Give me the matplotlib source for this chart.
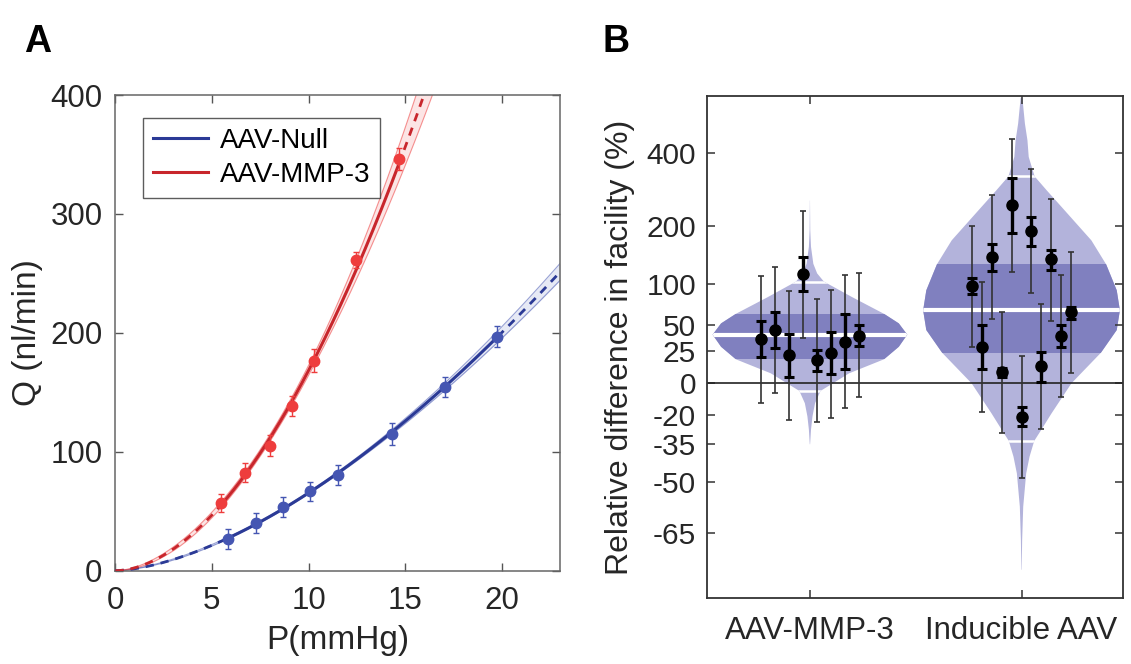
import numpy as np
import matplotlib
matplotlib.use('Agg')
import matplotlib.pyplot as plt
from matplotlib.patches import Polygon, Rectangle

plt.rcParams['font.family'] = ['Liberation Sans', 'DejaVu Sans']

# ---- panel A: flow vs pressure (means +/- error) ----
p_null = [5.86, 7.28, 8.67, 10.09, 11.5, 14.31, 17.04, 19.74]
q_null = [26.7, 39.8, 53.8, 67.0, 80.5, 114.7, 154.7, 196.8]
e_null = [8.3, 8.4, 8.3, 8.0, 8.5, 9.3, 8.4, 8.8]

p_mmp = [5.47, 6.74, 8.00, 9.17, 10.30, 12.45, 14.66]
q_mmp = [57.2, 82.4, 104.9, 138.5, 176.6, 261.3, 346.2]
e_mmp = [7.5, 8.1, 8.8, 8.7, 9.5, 7.0, 9.0]

# ---- panel B: relative difference in facility (%) ----
groups = ['AAV-MMP-3', 'Inducible AAV']

mmp_mid = [35.7, 44.6, 21, 114, 17, 22.8, 32.6, 39]
mmp_se_lo = [20, 27.7, 4.3, 90, 8.5, 6, 9.8, 29]
mmp_se_hi = [54, 64, 40.6, 141, 26, 43, 61.7, 49.7]
mmp_ci_lo = [-13, -7.1, -23, 37, -24, -22, -16, -9.3]
mmp_ci_hi = [111, 125, 90, 232, 80, 92, 113, 115]

ind_mid = [96.6, 28.6, 141, 7.5, 246, -21.2, 189, 12.4, 137, 39, 63.6]
ind_se_lo = [86, 10, 119, 4, 186, -26, 161, 0.7, 120, 28.6, 56]
ind_se_hi = [107.5, 49.7, 165, 11, 319, -15.5, 219, 24, 154, 49.7, 70]
ind_ci_lo = [28, -18.7, 56, -29.8, 117, -48.8, 87, -27.6, 54, -9.7, 7.2]
ind_ci_hi = [200, 101.8, 272, 64, 450, 20.8, 346, 73, 263, 113, 150]

# violin outlines: level (%) and half width (x units)
mmp_vl_pct = [258, 191, 159, 130, 115, 103, 82, 62, 51.5, 40, 28.6, 17.8, 6.8, -5.6, -13.4, -21, -28, -35]
mmp_vl_w = [0.0003, 0.0015, 0.005, 0.016, 0.034, 0.066, 0.20, 0.35, 0.42, 0.46, 0.42, 0.35, 0.185, 0.05, 0.024, 0.012, 0.005, 0.0008]
mmp_dark = [17.8, 62]
mmp_marks = [-5.6, 40, 103]

ind_vl_pct = [636, 514, 446, 386, 324, 284, 242, 171, 129, 91, 66, 44.6, 23.3, -0.4, -19.3, -28, -33.5, -40.4, -47, -58, -66.7, -73]
ind_vl_w = [0.004, 0.016, 0.028, 0.034, 0.062, 0.12, 0.19, 0.33, 0.40, 0.45, 0.465, 0.45, 0.375, 0.236, 0.142, 0.094, 0.06, 0.038, 0.022, 0.008, 0.003, 0.0008]
ind_dark = [23.3, 129]
ind_marks = [-33.5, 66, 324]

ytick_pct = [400, 200, 100, 50, 25, 0, -20, -35, -50, -65]

NULL_LINE, NULL_PT = '#2b3a96', '#4556b2'
MMP_LINE, MMP_PT = '#c8262c', '#ee3d3d'
V_LIGHT, V_DARK = '#b3b3db', '#8080bf'
TXT = '#262626'


def tr(v):
    return np.log1p(np.asarray(v, dtype=float) / 100.0)


fig = plt.figure(figsize=(11.31, 6.64), dpi=100)

# ================= panel A =================
axA = fig.add_axes([0.1017, 0.1405, 0.3935, 0.7164])
pp = np.linspace(0.02, 23, 500)
handles = []
for p, q, e, cl, cp, lab in [(p_null, q_null, e_null, NULL_LINE, NULL_PT, 'AAV-Null'),
                             (p_mmp, q_mmp, e_mmp, MMP_LINE, MMP_PT, 'AAV-MMP-3')]:
    # power-law fit in log-log space with its confidence band
    coef, cov = np.polyfit(np.log(p), np.log(q), 1, cov=True)
    X = np.column_stack([np.log(pp), np.ones_like(pp)])
    mu = X @ coef
    se = np.sqrt(np.sum((X @ cov) * X, axis=1))
    fit = np.exp(mu)
    lo, hi = np.exp(mu - 1.6 * se), np.exp(mu + 1.6 * se)
    axA.fill_between(pp, lo, hi, color=cp, alpha=0.13, lw=0, zorder=1)
    axA.plot(pp, lo, color=cp, lw=0.8, alpha=0.55, zorder=2)
    axA.plot(pp, hi, color=cp, lw=0.8, alpha=0.55, zorder=2)
    inside = (pp >= min(p)) & (pp <= max(p))
    h, = axA.plot(np.where(inside, pp, np.nan), fit, color=cl, lw=2.2, zorder=3, label=lab)
    axA.plot(np.where(inside, np.nan, pp), fit, color=cl, lw=2.0, ls=(0, (3, 2.5)), zorder=3)
    axA.errorbar(p, q, yerr=e, fmt='o', color=cp, ms=7.5, elinewidth=1.0,
                 capsize=2.5, capthick=1.0, zorder=4)
    handles.append(h)

axA.set_xlim(0, 23)
axA.set_ylim(0, 400)
axA.set_xticks([0, 5, 10, 15, 20])
axA.set_yticks([0, 100, 200, 300, 400])
axA.tick_params(direction='in', top=True, right=True, length=6, width=1,
                labelsize=22.5, colors='#555555', labelcolor=TXT)
axA.tick_params(axis='x', pad=11)
axA.tick_params(axis='y', pad=9)
for s in axA.spines.values():
    s.set_color('#666666')
    s.set_linewidth(1.1)
axA.set_xlabel('P(mmHg)', fontsize=24, color=TXT)
axA.set_ylabel('Q (nl/min)', fontsize=24, color=TXT)
axA.xaxis.set_label_coords(0.5, -0.115)
axA.yaxis.set_label_coords(-0.162, 0.5)
leg = axA.legend(handles=handles, loc='upper left', bbox_to_anchor=(0.063, 0.952),
                 borderaxespad=0, fontsize=20, frameon=True, fancybox=False,
                 handlelength=2.0, handletextpad=0.4, borderpad=0.35, labelspacing=0.3)
leg.get_frame().set_edgecolor('#333333')
leg.get_frame().set_linewidth(1.0)

# ================= panel B =================
axB = fig.add_axes([0.6254, 0.0989, 0.3676, 0.757])


def draw_violin(ax, pos, pct, half, dark, marks):
    y = tr(pct)
    w = np.asarray(half)
    verts = np.column_stack([np.r_[pos + w, (pos - w)[::-1]], np.r_[y, y[::-1]]])
    poly = Polygon(verts, closed=True, fc=V_LIGHT, ec='none', zorder=1)
    ax.add_patch(poly)
    band = Rectangle((pos - 0.6, tr(dark[0])), 1.2, tr(dark[1]) - tr(dark[0]),
                     fc=V_DARK, ec='none', zorder=1.1)
    ax.add_patch(band)
    band.set_clip_path(poly)
    for i, v in enumerate(marks):
        ln, = ax.plot([pos - 0.6, pos + 0.6], [tr(v), tr(v)], color='white',
                      lw=3.0 if i == 1 else 1.8, zorder=1.2, solid_capstyle='butt')
        ln.set_clip_path(poly)


def draw_points(ax, pos, mid, se_lo, se_hi, ci_lo, ci_hi):
    n = len(mid)
    x = pos + np.linspace(-0.232, 0.232, n)
    m = tr(mid)
    ax.errorbar(x, m, yerr=[m - tr(ci_lo), tr(ci_hi) - m], fmt='none', ecolor='#333333',
                elinewidth=1.2, capsize=2.4, capthick=1.2, zorder=3)
    ax.errorbar(x, m, yerr=[m - tr(se_lo), tr(se_hi) - m], fmt='o', color='black',
                ms=8, elinewidth=2.4, capsize=3.6, capthick=2.2, zorder=4)


draw_violin(axB, 1, mmp_vl_pct, mmp_vl_w, mmp_dark, mmp_marks)
draw_violin(axB, 2, ind_vl_pct, ind_vl_w, ind_dark, ind_marks)
axB.axhline(0, color='#222222', lw=1.2, zorder=2)
draw_points(axB, 1, mmp_mid, mmp_se_lo, mmp_se_hi, mmp_ci_lo, mmp_ci_hi)
draw_points(axB, 2, ind_mid, ind_se_lo, ind_se_hi, ind_ci_lo, ind_ci_hi)

axB.set_xlim(0.515, 2.48)
axB.set_ylim(-1.51, 2.01)
axB.set_xticks([1, 2])
axB.set_xticklabels(groups)
axB.set_yticks(tr(ytick_pct))
axB.set_yticklabels([str(t) for t in ytick_pct])
axB.tick_params(direction='in', top=True, right=True, length=6, width=1.1,
                colors='#333333', labelcolor=TXT)
axB.tick_params(axis='y', labelsize=21.5, pad=8)
axB.tick_params(axis='x', labelsize=22.5, pad=13)
for s in axB.spines.values():
    s.set_color('#333333')
    s.set_linewidth(1.3)
axB.set_ylabel('Relative difference in facility (%)', fontsize=23, color=TXT)
axB.yaxis.set_label_coords(-0.174, 0.5)

fig.text(38 / 1131, 1 - 42 / 664, 'A', ha='center', va='center', fontsize=27, weight='bold')
fig.text(616 / 1131, 1 - 42 / 664, 'B', ha='center', va='center', fontsize=27, weight='bold')

fig.savefig('out.png', dpi=100, facecolor='white')
